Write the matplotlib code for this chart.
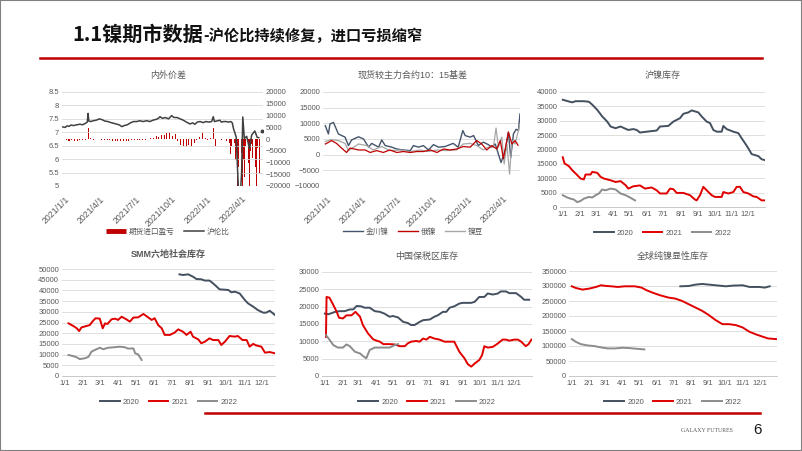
import numpy as np
import matplotlib
matplotlib.use("Agg")
from matplotlib import pyplot as plt
from matplotlib.patches import Rectangle
from matplotlib.lines import Line2D

plt.rcParams['font.family'] = ['Liberation Sans', 'Noto Sans CJK SC']

W, H = 802, 451
C2020 = '#44505f'
C2021 = '#e00000'
C2022 = '#8c8c8c'
GRID = '#d9d9d9'
TXT = '#595959'

# ---------------- data ----------------
# panel 1: 内外价差 (x = days since 2021-01-01)
ratio_day = [-6, 0, 5, 10, 15, 22, 30, 38, 45, 52, 57, 59, 61, 66, 72, 80, 88, 95, 102, 110,
             118, 126, 134, 140, 146, 152, 160, 168, 176, 184, 192, 200, 210, 218, 226, 234,
             240, 244, 250, 258, 266, 274, 280, 288, 296, 304, 312, 321, 328, 334, 340, 347,
             355, 362, 370, 377, 381, 384, 390, 398, 402, 408, 414, 420, 426, 430, 433, 440,
             446, 450, 454, 457, 461, 467, 474, 480, 488, 494, 498, 502, 506]
ratio_val = [7.20, 7.18, 7.24, 7.22, 7.27, 7.25, 7.28, 7.30, 7.28, 7.33, 7.38, 7.70, 7.42, 7.40,
             7.43, 7.45, 7.50, 7.47, 7.42, 7.40, 7.36, 7.33, 7.30, 7.27, 7.21, 7.25, 7.28, 7.35,
             7.40, 7.40, 7.43, 7.40, 7.43, 7.40, 7.45, 7.48, 7.52, 7.58, 7.52, 7.55, 7.50, 7.62,
             7.55, 7.55, 7.50, 7.45, 7.38, 7.31, 7.35, 7.30, 7.38, 7.40, 7.36, 7.40, 7.38, 7.40,
             7.58, 7.40, 7.42, 7.45, 7.38, 7.40, 7.40, 7.38, 7.40, 7.35, 7.14, 6.83, 4.80, 4.50,
             5.50, 7.57, 6.77, 6.85, 6.40, 6.90, 7.05, 6.81, 6.80, np.nan, 7.04]
# 期货进口盈亏: weekly from 2021-01-04, then every 3 days from 2022-03-03
profit_week_start = 3
profit_week = [-600, -800, -500, -700, -900, -600, -500, -400, 4800, 600,
               -300, 0, -200, -500, -400, -600, -500, -700, -900, -800,
               -1000, -900, -700, -800, -600, -500, -400, -600, -300, -400,
               -200, 300, 600, 1200, 800, 1800, 1500, 2500, 2800, 1200,
               2000, -800, -2500, -2800, -3200, -2600, -3000, -1800, -600, 800,
               2500, 600, -300, 600, 4800, -3000, 0, -500, 0, -800, -1500]
profit_mar_start = 426
profit_mar = [-6500, -3000, -5000, -1500, -9000, -4000, -20000, -12000, -20000, -6000,
              -20000, -9000, -16000, -3000, -20000, -10000, -20000, -5000, -2000, -8000,
              -20000, -12000, -20000, -4000, 0, -15000]
date_ticks = [0, 90, 181, 273, 365, 455]
date_labels = ['2021/1/1', '2021/4/1', '2021/7/1', '2021/10/1', '2022/1/1', '2022/4/1']

# panel 2: 现货较主力合约10：15基差
jc_day = [-4, 4, 8, 17, 30, 47, 56, 64, 82, 95, 108, 116, 134, 142, 151, 168, 181, 198, 216, 224,
          237, 250, 263, 276, 289, 306, 327, 340, 352, 358, 371, 380, 392, 405, 418, 427, 436,
          444, 451, 462, 470, 476, 483, 490, 496, 500]
jc_val = [9250, 6600, 9800, 10300, 6600, 5600, 2900, 4700, 5700, 5000, 2400, 3600, 2400, 4700,
          2900, 2400, 1800, 1500, 1300, 2900, 2400, 2900, 1500, 3200, 2400, 2600, 3600, 2400,
          7700, 6100, 5600, 6100, 2900, 4000, 3200, 2400, 3400, 200, -2500, 1500, 7200, -900,
          6600, 8100, 7700, 13000]
ru_day = [-4, 4, 12, 25, 38, 51, 60, 82, 99, 112, 129, 146, 163, 181, 198, 216, 233, 250, 268,
          285, 302, 319, 336, 353, 371, 388, 401, 414, 427, 440, 449, 457, 470, 479, 487, 495]
ru_val = [3400, 3900, 4500, 3600, 2100, 700, 2100, 1500, 1500, 700, 1300, 700, 1500, 700, 1000,
          700, 1000, 1000, 1500, 700, 1800, 1500, 1800, 2600, 2400, 4500, 3400, 1500, 2900, 1800,
          4500, -1300, 7200, 3400, 4500, 3000]
nb_day = [-4, 12, 30, 47, 56, 82, 103, 120, 142, 163, 190, 216, 241, 263, 285, 310, 336, 353,
          371, 388, 405, 418, 431, 438, 444, 453, 459, 466, 473, 479, 487, 496, 500]
nb_val = [4200, 4800, 4500, 3600, 1300, 3400, 2900, 1500, 2600, 1300, 1500, 1000, 1500, 1000,
          1500, 1300, 1500, 3400, 3600, 2900, 1500, 2400, 2400, 8500, 2400, 5600, -3000, 3400,
          -6200, 4500, 3400, 7700, 9800]

# seasonal panels (x = day of year)
month_days = [0, 31, 59, 90, 120, 151, 181, 212, 243, 273, 304, 334]
month_labels = ['1/1', '2/1', '3/1', '4/1', '5/1', '6/1', '7/1', '8/1', '9/1', '10/1', '11/1', '12/1']

# 沪镍库存
s20_d = [0, 11, 17, 23, 38, 47, 53, 62, 71, 80, 86, 95, 104, 113, 118, 127, 133, 139, 151, 169,
         175, 190, 199, 211, 217, 226, 232, 244, 250, 259, 265, 271, 277, 286, 289, 295, 307,
         316, 322, 328, 334, 340, 352, 358, 364]
s20_v = [37300, 36700, 36400, 36800, 36800, 36600, 35600, 33800, 31500, 29700, 28000, 27400,
         28000, 27200, 26800, 27100, 26800, 25900, 26200, 26600, 28000, 28200, 29700, 30900,
         32400, 32900, 33600, 32900, 31500, 29700, 29200, 26800, 26200, 26200, 28200, 27100,
         26200, 25700, 23900, 22200, 20400, 18400, 17700, 16600, 16300]
s21_d = [0, 3, 11, 17, 26, 32, 38, 41, 50, 53, 62, 68, 74, 86, 95, 104, 113, 118, 127, 139, 148,
         160, 169, 175, 187, 193, 199, 205, 217, 229, 238, 241, 247, 253, 259, 268, 274, 286,
         289, 298, 307, 313, 319, 325, 334, 343, 349, 358, 364]
s21_v = [17300, 15200, 14200, 12800, 11100, 9900, 9600, 11300, 11300, 12200, 11900, 10500, 9900,
         9300, 8700, 9000, 7600, 6400, 7200, 7500, 6400, 6800, 5800, 4700, 4700, 6400, 6200,
         4900, 4900, 4100, 2600, 2300, 4100, 7000, 5800, 4100, 3500, 3500, 5200, 4700, 5200,
         7000, 7000, 5200, 4700, 3700, 3500, 2300, 2300]
s22_d = [0, 8, 14, 20, 26, 32, 38, 47, 53, 59, 65, 71, 77, 86, 95, 104, 113, 121, 130]
s22_v = [4100, 3300, 2900, 2600, 1700, 2100, 2900, 3500, 3300, 4100, 4700, 6100, 5800, 6400,
         6100, 4700, 4100, 3300, 2300]

# SMM六地社会库存
m20_d = [194, 200, 209, 217, 223, 231, 237, 245, 251, 257, 262, 277, 282, 288, 296, 305, 310,
         319, 327, 336, 341, 347, 356]
m20_v = [47500, 47200, 47500, 46400, 45300, 45200, 44600, 44600, 43300, 41800, 40500, 40200,
         39100, 39400, 38600, 35500, 34000, 32400, 30800, 29600, 29600, 30500, 28500]
m21_d = [6, 14, 20, 24, 28, 37, 42, 48, 52, 59, 64, 68, 72, 79, 85, 90, 96, 104, 110, 116, 124,
         133, 141, 147, 152, 158, 164, 169, 178, 186, 192, 200, 206, 213, 217, 226, 231, 237,
         245, 251, 260, 265, 271, 279, 288, 293, 301, 308, 313, 319, 324, 333, 339, 347, 356]
m21_v = [24600, 23400, 22300, 21000, 22700, 23400, 23800, 25900, 27000, 26800, 22300, 24600,
         24300, 26500, 26800, 26200, 27700, 26500, 25400, 27300, 27400, 29000, 27400, 26200,
         27000, 23800, 22300, 19200, 19200, 20300, 21800, 20700, 19200, 20700, 18400, 17100,
         15300, 16000, 17600, 16800, 16800, 14500, 16000, 18700, 18400, 18700, 16800, 16800,
         13700, 15000, 14300, 13700, 10900, 11200, 10600]
m22_d = [6, 14, 20, 25, 34, 40, 45, 51, 59, 65, 73, 82, 93, 102, 107, 116, 119, 124, 130]
m22_v = [9800, 9300, 8700, 7900, 8300, 9000, 11400, 12200, 13200, 12500, 13200, 13400, 13700,
         13400, 12800, 12900, 10600, 10100, 7500]

# 中国保税区库存
b20_d = [0, 6, 18, 26, 35, 44, 50, 56, 64, 70, 79, 88, 97, 105, 114, 120, 129, 138, 146, 152,
         158, 167, 173, 185, 193, 199, 208, 214, 220, 228, 237, 243, 258, 264, 272, 281, 287,
         296, 305, 310, 319, 325, 337, 346, 351, 360]
b20_v = [18000, 17800, 18500, 18700, 18700, 19200, 19200, 20200, 20100, 19700, 19700, 18700,
         18500, 18000, 17100, 17300, 16900, 15600, 15300, 14700, 14700, 15600, 16100, 16300,
         17100, 17500, 18500, 18500, 19700, 20100, 20900, 21100, 21100, 21400, 22800, 22800,
         23800, 23500, 23800, 24400, 24400, 23900, 23900, 22800, 22000, 22000]
b21_d = [2, 3, 8, 13, 21, 25, 32, 38, 47, 54, 62, 67, 76, 85, 91, 97, 103, 114, 123, 132, 141,
         146, 152, 161, 167, 173, 179, 185, 193, 202, 211, 220, 228, 237, 246, 252, 258, 264,
         272, 277, 281, 287, 296, 305, 313, 319, 325, 334, 340, 346, 354, 359, 364]
b21_v = [11300, 22800, 22600, 21100, 18500, 16800, 16600, 17500, 17500, 18500, 17100, 14700,
         12300, 10600, 10200, 9900, 9200, 9200, 9100, 8600, 8600, 9400, 9900, 10100, 9900,
         10800, 10500, 11300, 10800, 10500, 9900, 9900, 9900, 7000, 5100, 3400, 2700, 3600,
         4600, 6000, 8600, 8200, 8400, 9400, 10500, 10500, 10200, 10500, 10500, 9900, 8600,
         9200, 10500]
b22_d = [2, 8, 15, 23, 32, 38, 44, 53, 62, 67, 73, 79, 88, 103, 114, 123, 129]
b22_v = [11800, 10500, 8900, 8200, 8200, 9100, 8600, 7000, 6500, 5800, 5100, 7500, 8200, 8200,
         8200, 8900, 9200]

# 全球纯镍显性库存
g20_d = [193, 208, 220, 232, 244, 256, 274, 286, 304, 316, 334, 343, 352]
g20_v = [299000, 300000, 304600, 306800, 304600, 302400, 299000, 301300, 302400, 296800,
         296800, 294600, 299000]
g21_d = [0, 7, 19, 31, 43, 52, 61, 70, 82, 94, 112, 124, 133, 145, 157, 172, 184, 196, 208,
         220, 232, 244, 256, 268, 280, 292, 304, 316, 328, 340, 349, 364]
g21_v = [299000, 293500, 288000, 291300, 296800, 302400, 300200, 299000, 296800, 299000,
         299000, 294600, 285800, 276900, 269100, 261400, 258100, 250300, 239200, 228200,
         217100, 202700, 186100, 172800, 172800, 169500, 161700, 147300, 138500, 130700,
         125200, 122900]
g22_d = [0, 7, 16, 28, 40, 52, 64, 76, 91, 103, 115, 129]
g22_v = [122900, 114100, 106300, 101900, 99700, 95300, 91900, 91900, 94100, 93000, 90800, 88600]

# ---------------- figure ----------------
fig = plt.figure(figsize=(W / 100, H / 100), dpi=100)


def px_axes(l, t, r, b):
    return fig.add_axes([l / W, 1 - b / H, (r - l) / W, (b - t) / H])


def style(ax):
    for s in ax.spines.values():
        s.set_visible(False)
    ax.grid(axis='y', color=GRID, lw=0.6)
    ax.set_axisbelow(True)
    ax.tick_params(labelsize=5.5, colors=TXT, length=0, pad=2)


def legend_at(handles, labels, x, y):
    fig.legend(handles, labels, loc='center', bbox_to_anchor=(x / W, 1 - y / H), ncol=len(labels),
               frameon=False, fontsize=5.5, handlelength=2.6, columnspacing=1.2, handletextpad=0.4,
               labelcolor=TXT)


def seasonal(box, title, ty, series, ymax, step, xmax, bold=False):
    ax = px_axes(*box)
    style(ax)
    for d, v, c in series:
        ax.plot(d, v, color=c, lw=1.4)
    ax.set_ylim(0, ymax)
    ax.set_yticks(np.arange(0, ymax + 1, step))
    ax.set_xlim(-5, xmax)
    ax.set_xticks(month_days)
    ax.set_xticklabels(month_labels)
    ax.spines['bottom'].set_visible(True)
    ax.spines['bottom'].set_color('#bfbfbf')
    ax.spines['bottom'].set_linewidth(0.6)
    ax.tick_params(axis='x', pad=3)
    fig.text((box[0] + box[2]) / 2 / W, 1 - ty / H, title, fontsize=6.5, color=TXT, ha='center',
             va='center', fontweight='bold' if bold else 'normal')
    hs = [Line2D([], [], color=c, lw=1.4) for c in (C2020, C2021, C2022)]
    legend_at(hs, ['2020', '2021', '2022'], (box[0] + box[2]) / 2, box[3] + 26)
    return ax


def date_axis(ax):
    ax.set_xticks(date_ticks)
    ax.set_xticklabels(date_labels, rotation=45, ha='right', rotation_mode='anchor', fontsize=6.3)
    ax.tick_params(axis='x', pad=6)


# panel 1
ax1 = px_axes(62, 92, 263, 186)
ax1r = ax1.twinx()
style(ax1)
style(ax1r)
ax1r.grid(False)
wk_days = [profit_week_start + 7 * i for i in range(len(profit_week))]
mar_days = [profit_mar_start + 3 * i for i in range(len(profit_mar))]
ax1r.bar(wk_days, profit_week, width=2.6, color='#c00000', lw=0)
ax1r.bar(mar_days, profit_mar, width=2.2, color='#c00000', lw=0)
ax1r.set_ylim(-20000, 20000)
ax1r.set_yticks(np.arange(-20000, 20001, 5000))
ax1.set_zorder(ax1r.get_zorder() + 1)
ax1.patch.set_visible(False)
ax1.plot(ratio_day, ratio_val, color='#404040', lw=1.1)
ax1.plot(ratio_day[-1:], ratio_val[-1:], 'o', color='#404040', ms=1.8)
ax1.set_ylim(5, 8.5)
ax1.set_yticks(np.arange(5, 8.51, 0.5))
ax1.set_yticklabels(['5', '5.5', '6', '6.5', '7', '7.5', '8', '8.5'])
ax1.set_xlim(-8, 509)
date_axis(ax1)
fig.text(168 / W, 1 - 75 / H, '内外价差', fontsize=6.5, color=TXT, ha='center', va='center')
legend_at([Line2D([], [], color='#c00000', lw=3.5, solid_capstyle='butt'),
           Line2D([], [], color='#404040', lw=1.1)],
          ['期货进口盈亏', '沪伦比'], 168, 232)

# panel 2
ax2 = px_axes(323, 92, 520, 186)
style(ax2)
ax2.plot(jc_day, jc_val, color='#44546a', lw=1.0)
ax2.plot(nb_day, nb_val, color='#a6a6a6', lw=0.9)
ax2.plot(ru_day, ru_val, color='#c00000', lw=0.9)
ax2.set_ylim(-10000, 20000)
ax2.set_yticks(np.arange(-10000, 20001, 5000))
ax2.set_xlim(-10, 500)
date_axis(ax2)
fig.text(413 / W, 1 - 75 / H, '现货较主力合约10：15基差', fontsize=6.5, color=TXT, ha='center', va='center')
legend_at([Line2D([], [], color='#44546a', lw=1.0), Line2D([], [], color='#c00000', lw=1.0),
           Line2D([], [], color='#a6a6a6', lw=1.0)], ['金川镍', '俄镍', '镍豆'], 413, 232)

# panels 3-6
seasonal((560, 92, 765, 207), '沪镍库存', 75,
         [(s20_d, s20_v, C2020), (s21_d, s21_v, C2021), (s22_d, s22_v, C2022)], 40000, 5000, 364)
seasonal((62, 269, 275, 376), 'SMM六地社会库存', 254,
         [(m20_d, m20_v, C2020), (m21_d, m21_v, C2021), (m22_d, m22_v, C2022)], 50000, 5000, 356,
         bold=True)
seasonal((322, 272, 532, 376), '中国保税区库存', 256,
         [(b20_d, b20_v, C2020), (b21_d, b21_v, C2021), (b22_d, b22_v, C2022)], 30000, 5000, 365)
seasonal((569, 271, 777, 376), '全球纯镍显性库存', 256,
         [(g20_d, g20_v, C2020), (g21_d, g21_v, C2021), (g22_d, g22_v, C2022)], 350000, 50000, 365)

# slide decoration
main_title = fig.text(72 / W, 1 - 41 / H, '1.1镍期市数据', fontsize=14.5, fontweight='bold',
                      color='#111111', family=['Noto Sans CJK SC'], va='baseline')
renderer = fig.canvas.get_renderer()
title_right = main_title.get_window_extent(renderer).x1
fig.text(title_right / W, 1 - 41 / H, '-沪伦比持续修复，进口亏损缩窄', fontsize=11, fontweight='bold',
         color='#111111', family=['Noto Sans CJK SC'], va='baseline')
fig.add_artist(Line2D([40 / W, 762 / W], [1 - 58 / H] * 2, color='#c00000', lw=1.8))
fig.add_artist(Line2D([205 / W, 760 / W], [1 - 413 / H] * 2, color='#c00000', lw=1.8))
fig.text(707 / W, 1 - 430 / H, 'GALAXY FUTURES', fontsize=4.2, color='#595959',
         family=['Liberation Serif'], ha='center', va='center')
fig.text(757 / W, 1 - 430 / H, '6', fontsize=11, color='#1a1a1a', ha='center', va='center')
fig.add_artist(Rectangle((0, 0), 1, 1, transform=fig.transFigure, fill=False,
                         edgecolor='#808080', lw=1.5))

fig.savefig('out.png', dpi=100)
